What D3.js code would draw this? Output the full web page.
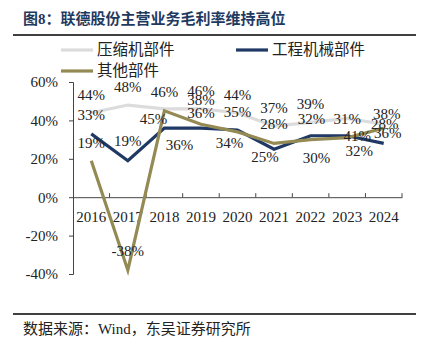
<!DOCTYPE html>
<html>
<head>
<meta charset="utf-8">
<script src="https://cdn.jsdelivr.net/npm/d3@7"></script>
<style>
  body { margin: 0; background: #fff; }
  svg { display: block; }
</style>
</head>
<body>
<div id="chart"></div>
<script>
const years = ["2016", "2017", "2018", "2019", "2020", "2021", "2022", "2023", "2024"];
const compressor = [44, 48, 46, 46, 44, 37, 39, 41, 38];
const machinery = [33, 19, 36, 36, 35, 25, 32, 32, 28];
const others = [19, -38, 45, 38, 34, 28, 30, 31, 36];
const yTicks = [-40, -20, 0, 20, 40, 60];

// label nudges [dx, dy] relative to each point, one row per series
const compressorLabelShift = [[0,-18],[0,-18],[0,-17],[0,-18],[0,-18],[0,-18],[0,-19],[10,17],[3,-10]];
const machineryLabelShift = [[0,-19],[0,-20],[15,17],[0,-15],[0,-18],[-9,8],[1,-17],[12,15],[1,-20]];
const othersLabelShift = [[0,-18],[0,-19],[-11,8],[0,-24],[-8,11],[0,-20],[6,18],[0,-19],[4,5]];

const W = 436, H = 352;
const serif = "'Liberation Serif', 'Times New Roman', 'Noto Sans CJK SC', serif";
const cjk = "'Liberation Serif', 'Noto Sans CJK SC', serif";

const svg = d3.select("#chart").append("svg")
    .attr("width", W)
    .attr("height", H);

// Title and rules
svg.append("text")
    .attr("x", 23).attr("y", 24)
    .style("font-family", cjk)
    .style("font-size", "15px")
    .style("font-weight", "700")
    .style("fill", "#1f3a5f")
    .text("图8：联德股份主营业务毛利率维持高位");

svg.append("line")
    .attr("x1", 13).attr("x2", 416).attr("y1", 35).attr("y2", 35)
    .attr("stroke", "#000").attr("stroke-width", 1.5);

svg.append("line")
    .attr("x1", 13).attr("x2", 416).attr("y1", 314).attr("y2", 314)
    .attr("stroke", "#000").attr("stroke-width", 1.5);

svg.append("text")
    .attr("x", 23).attr("y", 334)
    .style("font-family", cjk)
    .style("font-size", "15px")
    .style("fill", "#222")
    .text("数据来源：Wind，东吴证券研究所");

const x = d3.scaleBand().domain(years).range([73, 402]);
const y = d3.scaleLinear().domain([-40, 60]).range([274, 82]);

// Axes
const yAxis = svg.append("g")
    .attr("transform", "translate(73,0)")
    .call(d3.axisLeft(y).tickValues(yTicks).tickSize(4).tickPadding(11).tickFormat(d => d + "%"));
yAxis.select(".domain").attr("stroke", "#444");
yAxis.selectAll(".tick line").attr("stroke", "#444");
yAxis.selectAll("text")
    .style("font-family", serif)
    .style("font-size", "15px")
    .style("fill", "#222");

const xAxis = svg.append("g")
    .attr("transform", `translate(0,${y(0)})`)
    .call(d3.axisBottom(x).tickSize(0).tickPadding(14));
xAxis.select(".domain").attr("stroke", "#444");
xAxis.selectAll("text")
    .style("font-family", serif)
    .style("font-size", "15px")
    .style("fill", "#222");

// category boundary ticks pointing up
xAxis.selectAll(".bound")
    .data(years.slice(1).concat(["end"]))
    .join("line")
    .attr("class", "bound")
    .attr("x1", (d, i) => x.range()[0] + x.step() * (i + 1))
    .attr("x2", (d, i) => x.range()[0] + x.step() * (i + 1))
    .attr("y1", 0).attr("y2", -4)
    .attr("stroke", "#444");

const series = [
    { name: "压缩机部件", values: compressor, color: "#dcdcdc", shift: compressorLabelShift },
    { name: "工程机械部件", values: machinery, color: "#1f3864", shift: machineryLabelShift },
    { name: "其他部件", values: others, color: "#948a54", shift: othersLabelShift }
];

const line = d3.line()
    .x((d, i) => x(years[i]) + x.bandwidth() / 2)
    .y(d => y(d));

series.forEach(s => {
    svg.append("path")
        .datum(s.values)
        .attr("fill", "none")
        .attr("stroke", s.color)
        .attr("stroke-width", 3.2)
        .attr("stroke-linejoin", "miter")
        .attr("d", line);
});

// Value labels
series.forEach(s => {
    svg.append("g").selectAll("text")
        .data(s.values)
        .join("text")
        .attr("x", (d, i) => x(years[i]) + x.bandwidth() / 2 + s.shift[i][0])
        .attr("y", (d, i) => y(d) + s.shift[i][1])
        .attr("text-anchor", "middle")
        .attr("dy", "0.35em")
        .style("font-family", serif)
        .style("font-size", "15px")
        .style("fill", "#222")
        .text(d => d + "%");
});

// Legend
const legendItems = [
    { s: series[0], lx: 61, ly: 50 },
    { s: series[1], lx: 236, ly: 50 },
    { s: series[2], lx: 61, ly: 71 }
];
const legend = svg.append("g");
legendItems.forEach(item => {
    legend.append("line")
        .attr("x1", item.lx).attr("x2", item.lx + 32)
        .attr("y1", item.ly).attr("y2", item.ly)
        .attr("stroke", item.s.color)
        .attr("stroke-width", 3.2);
    legend.append("text")
        .attr("x", item.lx + 36).attr("y", item.ly)
        .attr("dy", "0.35em")
        .style("font-family", cjk)
        .style("font-size", "15.5px")
        .style("fill", "#222")
        .text(item.s.name);
});
</script>
</body>
</html>
